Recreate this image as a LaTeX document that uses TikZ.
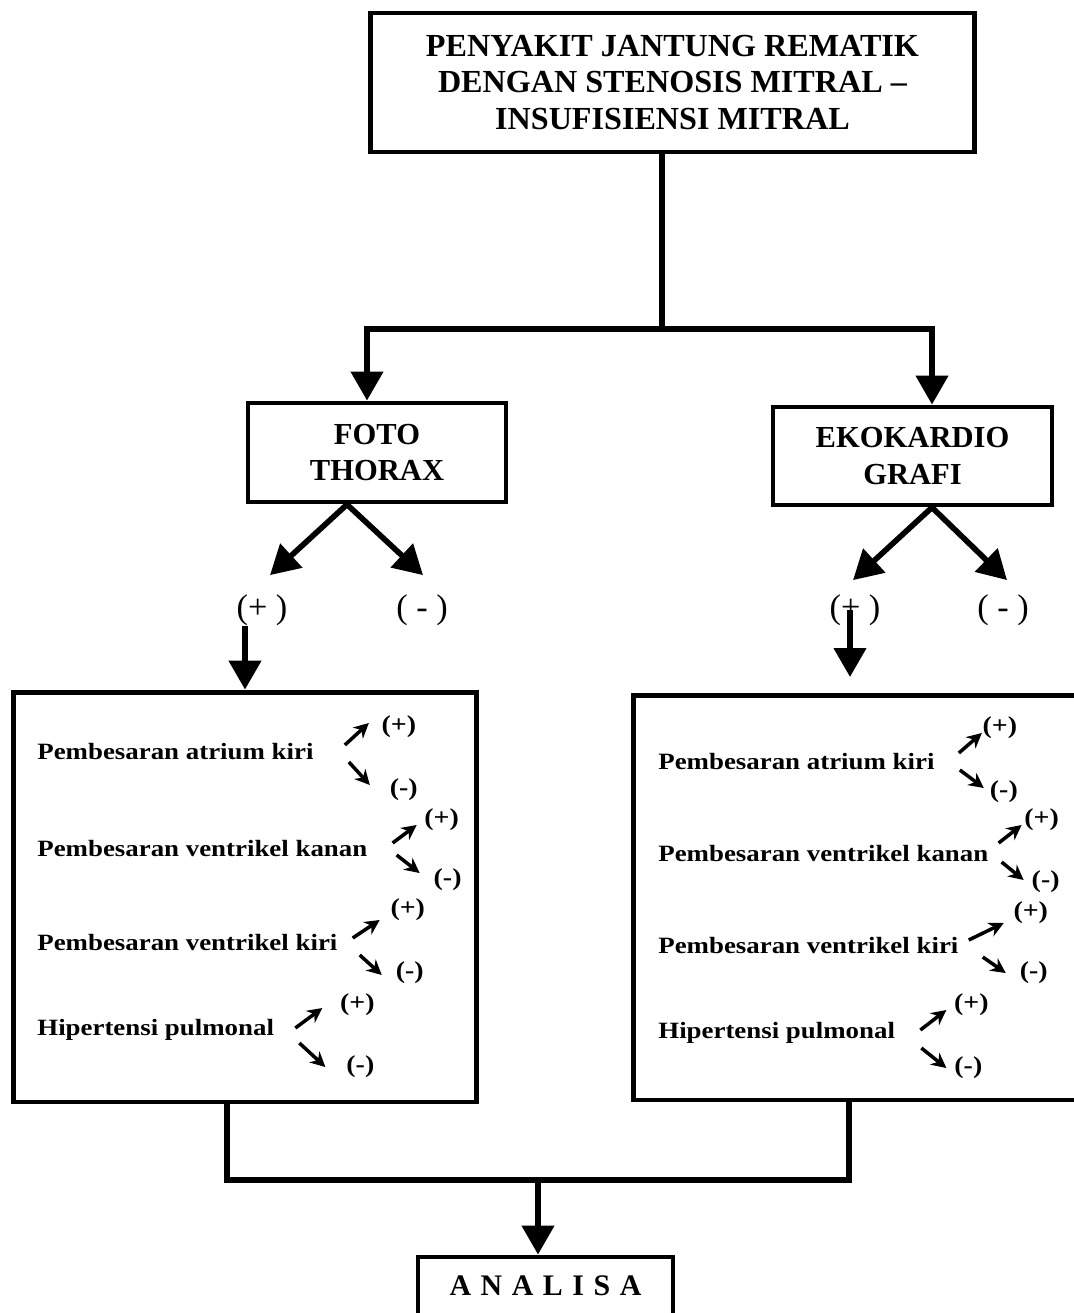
\documentclass[tikz,border=0pt]{standalone}
\usepackage{fontspec}
\setmainfont{Liberation Serif}
\newfontfamily\widefont[FakeStretch=1.15]{Liberation Serif}
\newfontfamily\spacedfont[LetterSpace=32]{Liberation Serif}
\usetikzlibrary{arrows.meta, positioning}

\tikzset{bighead/.tip={Triangle[length=16.5pt, width=18pt]}}

\begin{document}
\begin{tikzpicture}[
  x=0.02cm, y=-0.02cm,
  box/.style={draw, line width=2.8pt, align=center, inner sep=0pt},
  conn/.style={line width=3.2pt},
  bigarr/.style={line width=3.2pt, -bighead},
  smallarr/.style={line width=2pt, -{Stealth[length=8.5pt, width=8.5pt]}},
  row/.style={anchor=west, inner sep=0pt, font=\widefont\bfseries\fontsize{13.3}{16}\selectfont},
  sign/.style={inner sep=0pt, font=\widefont\bfseries\fontsize{13.8}{16}\selectfont},
  res/.style={inner sep=0pt, font=\fontsize{19.5}{22}\selectfont}
]
  \useasboundingbox (0,0) rectangle (1073,1313);

  % Diagnosis
  \node[box, minimum width=12.1cm, minimum height=2.78cm,
        font=\bfseries\fontsize{18.3}{21}\selectfont] (pjr) at (672.5,82.5)
        {PENYAKIT JANTUNG REMATIK\\DENGAN STENOSIS MITRAL –\\INSUFISIENSI MITRAL};

  % Two examinations
  \node[box, minimum width=5.16cm, minimum height=1.98cm,
        font=\bfseries\fontsize{17.4}{20.6}\selectfont] (foto) at (377,452.5) {FOTO\\THORAX};
  \node[box, minimum width=5.58cm, minimum height=1.96cm,
        font=\bfseries\fontsize{17.4}{20.6}\selectfont] (eko) at (912.5,456) {EKOKARDIO\\GRAFI};

  % Results
  \node[res] (fp) at (262,610) {(+ )};
  \node[res] (fm) at (422,610) {( - )};
  \node[res] (ep) at (855,610) {(+ )};
  \node[res] (em) at (1003,610) {( - )};

  % Findings boxes
  \node[box, minimum width=9.28cm, minimum height=8.2cm] (lbox) at (245,897) {};
  \node[box, minimum width=9.14cm, minimum height=8.1cm] (rbox) at (861.5,897.5) {};

  % Analysis
  \node[box, minimum width=5.1cm, minimum height=1.16cm,
        font=\spacedfont\bfseries\fontsize{17}{20}\selectfont] (ana) at (545.5,1286) {ANALISA};

  % Connectors from the diagnosis
  \coordinate (split) at (662,329);
  \coordinate (hl) at (367,329);
  \coordinate (hr) at (932,329);
  \draw[conn] (pjr.south -| split) -- (split);
  \draw[conn, bighead-bighead] (hl |- foto.north) -- (hl) -- (hr) -- (hr |- eko.north);

  % Branches to results
  \draw[bigarr] ([shift={(-30,0)}]foto.south) -- ([shift={(8,-19)}]fp.north);
  \draw[bigarr] ([shift={(-30,0)}]foto.south) -- ([shift={(1,-19)}]fm.north);
  \draw[bigarr] ([shift={(19.5,0)}]eko.south) -- ([shift={(-2,-14)}]ep.north);
  \draw[bigarr] ([shift={(19.5,0)}]eko.south) -- ([shift={(4,-14)}]em.north);

  % Positive results to findings
  \draw[bigarr] (fp.south -| lbox.north) -- (lbox.north);
  \coordinate (etip) at (850,677);
  \draw[bigarr] (ep.center -| etip) -- (etip);

  % Left findings
  \node[row] (la) at (37,752) {Pembesaran atrium kiri};
  \node[sign] (lap) at ([shift={(85,-25)}]la.east) {(+)};
  \node[sign] (lam) at ([shift={(90,38)}]la.east) {(-)};
  \draw[smallarr] ([shift={(31,-7)}]la.east) -- ([shift={(-30,-4)}]lap.center);
  \draw[smallarr] ([shift={(35,10)}]la.east) -- ([shift={(-34,-5)}]lam.center);

  \node[row] (lb) at (37,848) {Pembesaran ventrikel kanan};
  \node[sign] (lbp) at ([shift={(74,-28)}]lb.east) {(+)};
  \node[sign] (lbm) at ([shift={(80,32)}]lb.east) {(-)};
  \draw[smallarr] ([shift={(25,-5)}]lb.east) -- ([shift={(-25,5)}]lbp.center);
  \draw[smallarr] ([shift={(29,7)}]lb.east) -- ([shift={(-28,-7)}]lbm.center);

  \node[row] (lc) at (37,942) {Pembesaran ventrikel kiri};
  \node[sign] (lcp) at ([shift={(70,-32)}]lc.east) {(+)};
  \node[sign] (lcm) at ([shift={(72,31)}]lc.east) {(-)};
  \draw[smallarr] ([shift={(15,-4)}]lc.east) -- ([shift={(-28,10)}]lcp.center);
  \draw[smallarr] ([shift={(22,13)}]lc.east) -- ([shift={(-28,2)}]lcm.center);

  \node[row] (ld) at (37,1030) {Hipertensi pulmonal};
  \node[sign] (ldp) at ([shift={(83,-25)}]ld.east) {(+)};
  \node[sign] (ldm) at ([shift={(86,37)}]ld.east) {(-)};
  \draw[smallarr] ([shift={(21,-2)}]ld.east) -- ([shift={(-35,3)}]ldp.center);
  \draw[smallarr] ([shift={(25,13)}]ld.east) -- ([shift={(-35,0)}]ldm.center);

  % Right findings
  \node[row] (ra) at (658,762) {Pembesaran atrium kiri};
  \node[sign] (rap) at ([shift={(65,-34)}]ra.east) {(+)};
  \node[sign] (ram) at ([shift={(69,30)}]ra.east) {(-)};
  \draw[smallarr] ([shift={(24,-9)}]ra.east) -- ([shift={(-18,5)}]rap.center);
  \draw[smallarr] ([shift={(25,8)}]ra.east) -- ([shift={(-20,-4)}]ram.center);

  \node[row] (rb) at (658,853) {Pembesaran ventrikel kanan};
  \node[sign] (rbp) at ([shift={(53,-33)}]rb.east) {(+)};
  \node[sign] (rbm) at ([shift={(57,29)}]rb.east) {(-)};
  \draw[smallarr] ([shift={(10,-10)}]rb.east) -- ([shift={(-20,5)}]rbp.center);
  \draw[smallarr] ([shift={(13,9)}]rb.east) -- ([shift={(-22,-2)}]rbm.center);

  \node[row] (rc) at (658,945) {Pembesaran ventrikel kiri};
  \node[sign] (rcp) at ([shift={(72,-32)}]rc.east) {(+)};
  \node[sign] (rcm) at ([shift={(75,28)}]rc.east) {(-)};
  \draw[smallarr] ([shift={(10,-5)}]rc.east) -- ([shift={(-27,10)}]rcp.center);
  \draw[smallarr] ([shift={(24,12)}]rc.east) -- ([shift={(-28,0)}]rcm.center);

  \node[row] (rd) at (658,1033) {Hipertensi pulmonal};
  \node[sign] (rdp) at ([shift={(76,-28)}]rd.east) {(+)};
  \node[sign] (rdm) at ([shift={(73,35)}]rd.east) {(-)};
  \draw[smallarr] ([shift={(25,-3)}]rd.east) -- ([shift={(-25,5)}]rdp.center);
  \draw[smallarr] ([shift={(26,15)}]rd.east) -- ([shift={(-22,0)}]rdm.center);

  % Join to analysis
  \coordinate (bl) at (227,1180);
  \coordinate (br) at (849,1180);
  \coordinate (bm) at (538,1180);
  \draw[conn] (lbox.south -| bl) -- (bl) -- (br) -- (rbox.south -| br);
  \draw[bigarr] (bm) -- (bm |- ana.north);
\end{tikzpicture}
\end{document}
